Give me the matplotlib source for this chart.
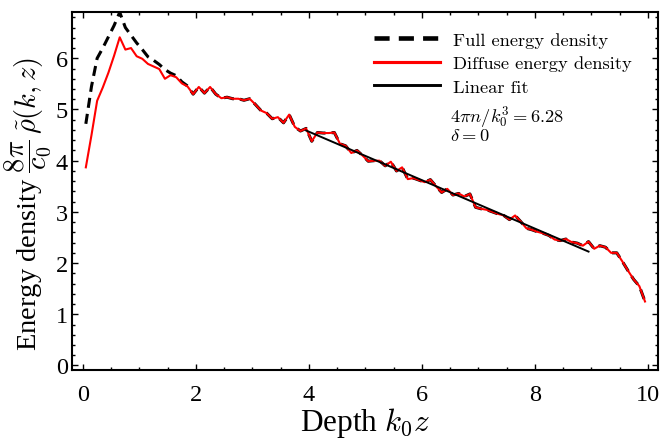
import matplotlib
matplotlib.use("Agg")
import matplotlib.pyplot as plt
import numpy as np
from matplotlib.ticker import MultipleLocator

# depth grid k0 z
depth = [0.05 + 0.1 * k for k in range(100)]

# diffuse energy density (red)
diffuse = [3.87, 4.50, 5.17, 5.43, 5.72, 6.05, 6.41, 6.17, 6.20, 6.04,
           5.99, 5.89, 5.84, 5.79, 5.60, 5.67, 5.63, 5.51, 5.45, 5.30,
           5.44, 5.32, 5.44, 5.30, 5.22, 5.24, 5.21, 5.21, 5.18, 5.21,
           5.10, 4.98, 4.93, 4.82, 4.85, 4.74, 4.90, 4.66, 4.58, 4.63,
           4.38, 4.55, 4.54, 4.54, 4.55, 4.33, 4.29, 4.15, 4.20, 4.10,
           3.99, 4.00, 4.00, 3.90, 3.98, 3.80, 3.87, 3.64, 3.66, 3.62,
           3.58, 3.63, 3.50, 3.38, 3.45, 3.33, 3.36, 3.30, 3.35, 3.09,
           3.06, 3.04, 3.00, 2.96, 2.93, 2.85, 2.93, 2.81, 2.68, 2.65,
           2.61, 2.58, 2.54, 2.46, 2.44, 2.47, 2.41, 2.39, 2.34, 2.42,
           2.28, 2.34, 2.31, 2.20, 2.20, 2.03, 1.85, 1.68, 1.55, 1.25]

# full energy density (black dashed): differs from diffuse only near the surface
full_head = [4.72, 5.45, 6.00, 6.20, 6.42, 6.64, 6.90, 6.60, 6.45, 6.30,
             6.17, 6.03, 5.96, 5.88, 5.78, 5.71, 5.66, 5.54, 5.46]
full = full_head + diffuse[len(full_head):]

# linear fit
fit_range = [3.95, 8.95]
fit_intercept = 6.458
fit_slope = -0.473

plt.rcParams['mathtext.fontset'] = 'cm'
plt.rcParams['font.family'] = ['Liberation Serif', 'DejaVu Serif']

fig = plt.figure(figsize=(6.62, 4.39), dpi=100)
ax = fig.add_axes([72/662, 1 - 371/439, (658-72)/662, (371-12.7)/439])

ax.plot(depth, full, color='black', lw=2.2, dashes=(3.3, 2.0), label='Full energy density', zorder=2)
ax.plot(depth, diffuse, color='red', lw=1.5, label='Diffuse energy density', zorder=3)
fx = np.array(fit_range)
ax.plot(fx, fit_intercept + fit_slope * fx, color='black', lw=1.4, label='Linear fit', zorder=4)

ax.set_xlim(-0.195, 10.18)
ax.set_ylim(-0.088, 6.91)
ax.xaxis.set_major_locator(MultipleLocator(2))
ax.xaxis.set_minor_locator(MultipleLocator(0.5))
ax.yaxis.set_major_locator(MultipleLocator(1))
ax.yaxis.set_minor_locator(MultipleLocator(0.2))
ax.tick_params(which='both', direction='in', top=True, right=True, width=1.0)
ax.tick_params(which='major', length=4.5, labelsize=17.5)
ax.tick_params(axis='x', which='major', pad=10)
ax.tick_params(axis='y', which='major', pad=3)
ax.tick_params(which='minor', length=2.5)
for s in ax.spines.values():
    s.set_linewidth(1.5)

ax.set_xlabel(r'Depth $k_0 z$', fontsize=22.5, labelpad=0)
ax.set_ylabel(r'Energy density $\dfrac{8\pi}{c_0}\,\tilde{\rho}(k,z)$', fontsize=20.5,
              labelpad=1, y=0.465)

leg = ax.legend(loc='upper left', bbox_to_anchor=(0.48, 1.0), frameon=False,
                prop={'family': 'cmr10', 'size': 13.3}, handlelength=3.6,
                handletextpad=0.7, labelspacing=0.4, borderaxespad=0.7)
for h in leg.get_lines():
    h.set_linewidth(h.get_linewidth() * 1.5)
H = 439
ax.text(450, H - 117, r'$4\pi n/k_0^3 = 6.28$', transform=None, fontsize=13.3, va='center', ha='left')
ax.text(450, H - 137, r'$\delta = 0$', transform=None, fontsize=13.3, va='center', ha='left')

fig.savefig('out.png', dpi=100)
